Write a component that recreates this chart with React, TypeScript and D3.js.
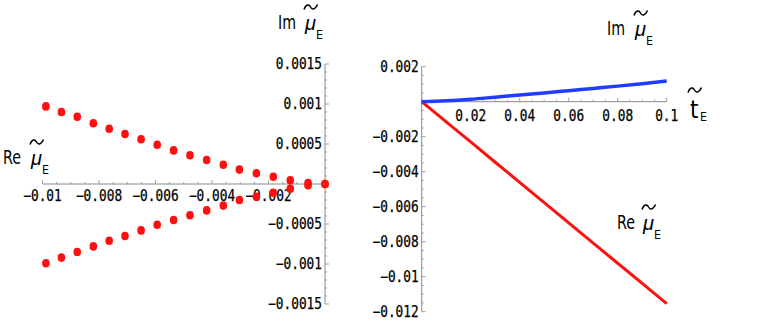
import React from "react";
import * as d3 from "d3";

// ---- Left panel data (parametric points: Re mu vs Im mu) ----
const reDots = [-0.00988, -0.00933, -0.00877, -0.0082, -0.00764, -0.00708, -0.00651, -0.00594, -0.00536, -0.00478, -0.00419, -0.0036, -0.00303, -0.00243, -0.00183, -0.00123, -0.0006, 0];
const imUpper = [0.00097, 0.0009, 0.00084, 0.00076, 0.00069, 0.000625, 0.00056, 0.00049, 0.00042, 0.00036, 0.0003, 0.00024, 0.00018, 0.000135, 0.00009, 0.000046, 0.000013, 0];
const imLower = [-0.00099, -0.00092, -0.00085, -0.00078, -0.00071, -0.00065, -0.00058, -0.00051, -0.00045, -0.00039, -0.00033, -0.00027, -0.0002, -0.00016, -0.00011, -0.00006, -0.000016, 0];

const leftXTicks = [-0.01, -0.008, -0.006, -0.004, -0.002];
const leftXLabels = ["−0.01", "−0.008", "−0.006", "−0.004", "−0.002"];
const leftYTicks = [0.0015, 0.001, 0.0005, -0.0005, -0.001, -0.0015];
const leftYLabels = ["0.0015", "0.001", "0.0005", "−0.0005", "−0.001", "−0.0015"];

// ---- Right panel data (mu vs t) ----
const tValues = [0, 0.01, 0.02, 0.03, 0.04, 0.05, 0.06, 0.07, 0.08, 0.09, 0.1];
const reMu = [0, -0.00115, -0.0023, -0.00346, -0.00461, -0.00577, -0.00692, -0.00808, -0.00923, -0.01038, -0.01154];
const imMu = [0, 0.00005, 0.00014, 0.00026, 0.00038, 0.0005, 0.00063, 0.00076, 0.00089, 0.00103, 0.00118];

const rightXTicks = [0.02, 0.04, 0.06, 0.08, 0.1];
const rightXLabels = ["0.02", "0.04", "0.06", "0.08", "0.1"];
const rightYTicks = [0.002, -0.002, -0.004, -0.006, -0.008, -0.01, -0.012];
const rightYLabels = ["0.002", "−0.002", "−0.004", "−0.006", "−0.008", "−0.01", "−0.012"];

const AXIS = "#8a8a8a";
const RED = "#ff1010";
const BLUE = "#1f3cff";
const TICKFONT = "'DejaVu Sans Mono', 'Liberation Mono', monospace";
const LABELFONT = "'Liberation Sans Narrow', 'DejaVu Sans Condensed', 'Liberation Sans', sans-serif";
const CHARW = 7.7;

function TickText({ x, y, text, anchor }: { x: number; y: number; text: string; anchor: string }) {
  return (
    <text
      x={x}
      y={y}
      textAnchor={anchor}
      dominantBaseline="central"
      fontFamily={TICKFONT}
      fontSize={15}
      fill="#000"
      stroke="#000"
      strokeWidth={0.25}
      textLength={text.length * CHARW}
      lengthAdjust="spacingAndGlyphs"
    >
      {text}
    </text>
  );
}

function Tilde({ x, y }: { x: number; y: number }) {
  // x: left, y: top
  const d = `M${x},${y + 5.5} C${x + 2},${y} ${x + 5},${y} ${x + 6.5},${y + 3} C${x + 8},${y + 6} ${x + 11},${y + 6} ${x + 13.5},${y + 0.5}`;
  return <path d={d} fill="none" stroke="#000" strokeWidth={1.5} />;
}

function MuLabel({ x, y, prefix, muOff }: { x: number; y: number; prefix: string; muOff: number }) {
  const mx = x + muOff;
  return (
    <g>
      <text x={x} y={y} fontFamily={LABELFONT} fontSize={20} fill="#000" textLength={18} lengthAdjust="spacingAndGlyphs">
        {prefix}
      </text>
      <text x={mx} y={y + 1} fontFamily="'Liberation Sans', sans-serif" fontStyle="italic" fontSize={20} fill="#000">
        μ
      </text>
      <Tilde x={mx - 1} y={y - 25} />
      <text x={mx + 11} y={y + 10} fontFamily={LABELFONT} fontSize={13} fill="#000" textLength={7} lengthAdjust="spacingAndGlyphs">
        E
      </text>
    </g>
  );
}

export default function App() {
  const xL = d3.scaleLinear().domain([-0.01, 0]).range([42.5, 325]);
  const yL = d3.scaleLinear().domain([-0.0015, 0.0015]).range([304, 64]);
  const xR = d3.scaleLinear().domain([0, 0.1]).range([421.7, 666.7]);
  const yR = d3.scaleLinear().domain([-0.012, 0.002]).range([311.7, 66.7]);

  const lineRe = d3
    .line<number>()
    .x((_, i) => xR(tValues[i]))
    .y((d) => yR(d));
  const lineIm = d3
    .line<number>()
    .x((_, i) => xR(tValues[i]))
    .y((d) => yR(d))
    .curve(d3.curveMonotoneX);

  const leftYMinor = d3.range(-15, 16).map((k) => k * 0.0001);
  const leftXMinor = d3.range(-20, 1).map((k) => k * 0.0005);
  const rightXMinor = d3.range(0, 21).map((k) => k * 0.005);
  const rightYMinor = d3.range(-24, 5).map((k) => k * 0.0005);

  const isMajor = (v: number, step: number) => Math.abs(v / step - Math.round(v / step)) < 1e-6;

  return (
    <svg width={763} height={328} style={{ position: "absolute", left: 0, top: 0, background: "#fff" }}>
      {/* ===== Left panel ===== */}
      <g>
        <line x1={xL(-0.01)} x2={xL(0)} y1={yL(0)} y2={yL(0)} stroke={AXIS} strokeWidth={1} />
        <line x1={xL(0)} x2={xL(0)} y1={yL(0.0015)} y2={yL(-0.0015)} stroke={AXIS} strokeWidth={1} />
        {leftYMinor.map((v, i) => (
          <line key={"lym" + i} x1={xL(0)} x2={xL(0) + (isMajor(v, 0.0005) ? 4 : 2)} y1={yL(v)} y2={yL(v)} stroke={AXIS} strokeWidth={0.8} />
        ))}
        {leftXMinor.map((v, i) => (
          <line key={"lxm" + i} x1={xL(v)} x2={xL(v)} y1={yL(0)} y2={yL(0) - (isMajor(v, 0.002) ? 4 : 2)} stroke={AXIS} strokeWidth={0.8} />
        ))}
        {leftXTicks.map((v, i) => (
          <TickText key={"lxl" + i} x={xL(v)} y={yL(0) + 12} text={leftXLabels[i]} anchor="middle" />
        ))}
        {leftYTicks.map((v, i) => (
          <TickText key={"lyl" + i} x={xL(0) - 3} y={yL(v)} text={leftYLabels[i]} anchor="end" />
        ))}
        {reDots.map((r, i) => (
          <ellipse key={"du" + i} cx={xL(r)} cy={yL(imUpper[i])} rx={3.8} ry={4.3} fill={RED} />
        ))}
        {reDots.map((r, i) => (
          <ellipse key={"dl" + i} cx={xL(r)} cy={yL(imLower[i])} rx={3.8} ry={4.3} fill={RED} />
        ))}
        <MuLabel x={278} y={29} prefix="Im" muOff={27} />
        <MuLabel x={3} y={164} prefix="Re" muOff={28} />
      </g>

      {/* ===== Right panel ===== */}
      <g>
        <line x1={xR(0)} x2={xR(0.1)} y1={yR(0)} y2={yR(0)} stroke={AXIS} strokeWidth={1} />
        <line x1={xR(0)} x2={xR(0)} y1={yR(0.002)} y2={yR(-0.012)} stroke={AXIS} strokeWidth={1} />
        {rightXMinor.map((v, i) => (
          <line key={"rxm" + i} x1={xR(v)} x2={xR(v)} y1={yR(0)} y2={yR(0) - (isMajor(v, 0.02) ? 4 : 2)} stroke={AXIS} strokeWidth={0.8} />
        ))}
        {rightYMinor.map((v, i) => (
          <line key={"rym" + i} x1={xR(0)} x2={xR(0) + (isMajor(v, 0.002) ? 4 : 2)} y1={yR(v)} y2={yR(v)} stroke={AXIS} strokeWidth={0.8} />
        ))}
        {rightXTicks.map((v, i) => (
          <TickText key={"rxl" + i} x={xR(v)} y={yR(0) + 14} text={rightXLabels[i]} anchor="middle" />
        ))}
        {rightYTicks.map((v, i) => (
          <TickText key={"ryl" + i} x={xR(0) - 3} y={yR(v)} text={rightYLabels[i]} anchor="end" />
        ))}
        <path d={lineRe(reMu) || ""} fill="none" stroke={RED} strokeWidth={3} />
        <path d={lineIm(imMu) || ""} fill="none" stroke={BLUE} strokeWidth={3.5} />
        <MuLabel x={607} y={35} prefix="Im" muOff={28} />
        <MuLabel x={617} y={229} prefix="Re" muOff={26} />
        <text x={690} y={118} fontFamily={LABELFONT} fontSize={24} fill="#000">
          t
        </text>
        <Tilde x={688} y={87} />
        <text x={700} y={121} fontFamily={LABELFONT} fontSize={13} fill="#000" textLength={7} lengthAdjust="spacingAndGlyphs">
          E
        </text>
      </g>
    </svg>
  );
}
